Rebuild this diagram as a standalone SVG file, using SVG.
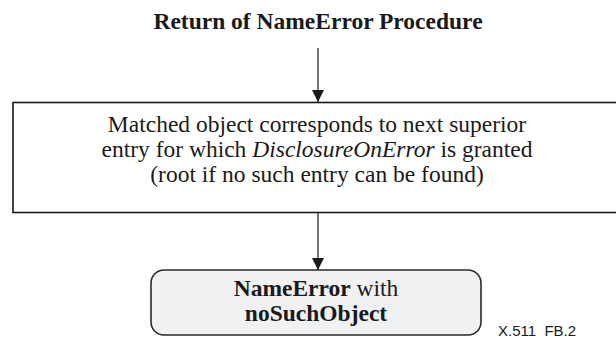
<svg xmlns="http://www.w3.org/2000/svg" width="616" height="338" viewBox="0 0 616 338">
<style>
.t{font-family:"Liberation Serif","Times New Roman",serif;font-size:23.5px;fill:#1a1a1a;text-anchor:middle}
.b{font-weight:bold}
.line{stroke:#1a1a1a;stroke-width:1.2;fill:none}
.box{stroke:#1a1a1a;stroke-width:1.6;fill:#ffffff}
.rbox{stroke:#2a2a2a;stroke-width:1.6;fill:#f0f1f3}
.lbl{font-family:"Liberation Sans",Arial,sans-serif;font-size:15px;fill:#1a1a1a}
</style>
<defs>
<marker id="ah" markerWidth="12" markerHeight="12" refX="12" refY="6" orient="auto" markerUnits="userSpaceOnUse">
<path d="M0,0 L12,6 L0,12 Z" fill="#1a1a1a"/>
</marker>
</defs>
<g id="title">
<text class="t b" x="318" y="29">Return of NameError Procedure</text>
</g>
<g id="connectors">
<line class="line" x1="318" y1="48" x2="318" y2="102" marker-end="url(#ah)"/>
<line class="line" x1="318" y1="213" x2="318" y2="270" marker-end="url(#ah)"/>
</g>
<g id="box1">
<rect class="box" x="13" y="102.5" width="620" height="110"/>
<text class="t" x="317" y="132">Matched object corresponds to next superior</text>
<text class="t" x="317" y="157">entry for which <tspan font-style="italic">DisclosureOnError</tspan> is granted</text>
<text class="t" x="317" y="181.5">(root if no such entry can be found)</text>
</g>
<g id="box2">
<rect class="rbox" x="151" y="270" width="330" height="65" rx="13" ry="13"/>
<text class="t" x="316" y="296"><tspan class="b">NameError</tspan> with</text>
<text class="t b" x="316" y="321">noSuchObject</text>
</g>
<g id="label">
<text class="lbl" x="498" y="336" xml:space="preserve">X.511  FB.2</text>
</g>
</svg>
